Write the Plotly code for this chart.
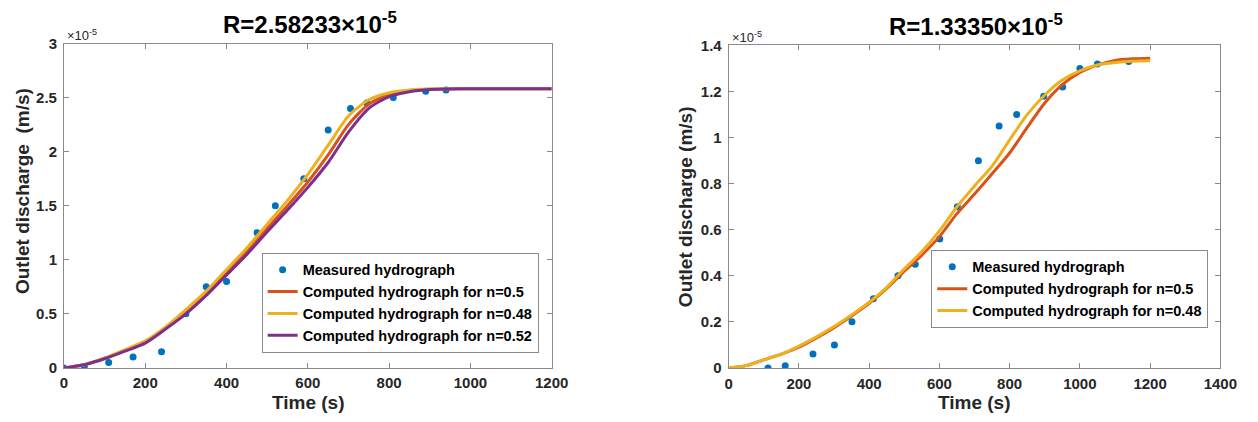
import plotly.graph_objects as go

# ---------------- data (discharge in units of 1e-5 m/s) ----------------
left_meas_t = [0, 50, 110, 170, 240, 300, 350, 400, 475, 520, 590, 650, 705, 745, 810, 890, 940]
left_meas_q = [0, 0.01, 0.05, 0.10, 0.15, 0.50, 0.75, 0.80, 1.25, 1.50, 1.75, 2.20, 2.40, 2.45, 2.50, 2.56, 2.57]

left_t = [0, 50, 100, 150, 200, 250, 300, 350, 400, 450, 500, 550, 600, 650, 700, 750, 800, 850, 900, 950, 1000, 1100, 1200]
left_n050 = [0, 0.03, 0.09, 0.16, 0.24, 0.37, 0.52, 0.69, 0.88, 1.08, 1.29, 1.50, 1.72, 1.97, 2.25, 2.44, 2.53, 2.565, 2.578, 2.581, 2.582, 2.5823, 2.5823]
left_n048 = [0, 0.03, 0.09, 0.17, 0.25, 0.38, 0.54, 0.71, 0.91, 1.11, 1.33, 1.55, 1.79, 2.06, 2.33, 2.48, 2.545, 2.57, 2.579, 2.582, 2.5823, 2.5823, 2.5823]
left_n052 = [0, 0.03, 0.085, 0.155, 0.23, 0.36, 0.50, 0.67, 0.86, 1.05, 1.26, 1.46, 1.67, 1.90, 2.18, 2.40, 2.51, 2.555, 2.575, 2.58, 2.582, 2.5823, 2.5823]

right_meas_t = [112, 161, 240, 301, 351, 412, 482, 531, 601, 651, 711, 770, 820, 897, 951, 1000, 1050, 1139]
right_meas_q = [0, 0.01, 0.06, 0.10, 0.20, 0.30, 0.40, 0.45, 0.56, 0.70, 0.90, 1.05, 1.10, 1.18, 1.22, 1.30, 1.32, 1.33]

right_t = [0, 50, 100, 150, 200, 250, 300, 350, 400, 450, 500, 550, 600, 650, 700, 750, 800, 850, 900, 950, 1000, 1050, 1100, 1150, 1200]
right_n050 = [0, 0.01, 0.035, 0.06, 0.09, 0.13, 0.175, 0.225, 0.28, 0.345, 0.42, 0.49, 0.57, 0.67, 0.755, 0.843, 0.933, 1.044, 1.15, 1.23, 1.283, 1.315, 1.335, 1.342, 1.345]
right_n048 = [0, 0.01, 0.035, 0.06, 0.095, 0.135, 0.18, 0.23, 0.285, 0.35, 0.43, 0.505, 0.595, 0.70, 0.79, 0.876, 0.99, 1.10, 1.185, 1.25, 1.29, 1.315, 1.326, 1.332, 1.334]

left_title = "R=2.58233×10<sup>-5</sup>"
right_title = "R=1.33350×10<sup>-5</sup>"
left_ylabel = "Outlet discharge\u00a0\u00a0(m/s)"
right_ylabel = "Outlet discharge (m/s)"
xlabel = "Time (s)"
multiplier = "×10<sup>-5</sup>"
left_xticks = [0, 200, 400, 600, 800, 1000, 1200]
right_xticks = [0, 200, 400, 600, 800, 1000, 1200, 1400]
left_yticks = [0, 0.5, 1, 1.5, 2, 2.5, 3]
right_yticks = [0, 0.2, 0.4, 0.6, 0.8, 1, 1.2, 1.4]

# ---------------- styling ----------------
BLUE = "#0072BD"
RED = "#D95319"
YEL = "#EDB120"
PUR = "#7E2F8E"
FONT = "Liberation Sans"
TXT = "#262626"
W, H = 1258, 422

fig = go.Figure()

def meas(x, y, xa, ya, leg):
    fig.add_trace(go.Scatter(x=x, y=y, mode="markers", xaxis=xa, yaxis=ya, legend=leg,
                             marker=dict(color=BLUE, size=7), name="<b>Measured hydrograph</b>"))

def line(x, y, xa, ya, leg, color, name):
    fig.add_trace(go.Scatter(x=x, y=y, mode="lines", xaxis=xa, yaxis=ya, legend=leg,
                             line=dict(color=color, width=3, shape="spline", smoothing=0.7),
                             name="<b>" + name + "</b>"))

meas(left_meas_t, left_meas_q, "x", "y", "legend")
line(left_t, left_n050, "x", "y", "legend", RED, "Computed hydrograph for n=0.5")
line(left_t, left_n048, "x", "y", "legend", YEL, "Computed hydrograph for n=0.48")
line(left_t, left_n052, "x", "y", "legend", PUR, "Computed hydrograph for n=0.52")

meas(right_meas_t, right_meas_q, "x2", "y2", "legend2")
line(right_t, right_n050, "x2", "y2", "legend2", RED, "Computed hydrograph for n=0.5")
line(right_t, right_n048, "x2", "y2", "legend2", YEL, "Computed hydrograph for n=0.48")

axis_common = dict(showgrid=False, zeroline=False, showline=True, linecolor="#8a8a8a", linewidth=1,
                   mirror="allticks", ticks="inside", ticklen=5, tickcolor="#8a8a8a",
                   tickfont=dict(family=FONT, size=15, color=TXT, weight="bold"))

lx0, lx1, ly0, ly1 = 61, 557, 36, 374
rx0, rx1, ry0, ry1 = 737, 1237, 38, 374

legend_common = dict(xanchor="left", yanchor="top", bgcolor="white",
                     bordercolor="#8a8a8a", borderwidth=1,
                     font=dict(family=FONT, size=14.5, color="black"),
                     tracegroupgap=0, itemwidth=30)

fig.update_layout(
    width=W, height=H, margin=dict(l=0, r=0, t=0, b=0),
    paper_bgcolor="white", plot_bgcolor="white",
    xaxis=dict(domain=[lx0 / W, lx1 / W], range=[0, 1200], tickvals=left_xticks, anchor="y",
               ticklabelstandoff=1, **axis_common),
    yaxis=dict(domain=[1 - ly1 / H, 1 - ly0 / H], range=[0, 3], tickvals=left_yticks, anchor="x",
               ticklabelstandoff=3, **axis_common),
    xaxis2=dict(domain=[rx0 / W, rx1 / W], range=[0, 1400], tickvals=right_xticks, anchor="y2",
                ticklabelstandoff=2, **axis_common),
    yaxis2=dict(domain=[1 - ry1 / H, 1 - ry0 / H], range=[0, 1.4], tickvals=right_yticks, anchor="x2",
                ticklabelstandoff=3, **axis_common),
    legend=dict(x=262 / W, y=1 - 254 / H, **legend_common),
    legend2=dict(x=943 / W, y=1 - 251 / H, **legend_common),
    font=dict(family=FONT, color=TXT),
)

ann = []
def text(x, y, t, size, bold=True, angle=0, xanchor="center", yanchor="middle", color=TXT):
    ann.append(dict(x=x / W, y=1 - y / H, xref="paper", yref="paper", text=("<b>" + t + "</b>") if bold else t,
                    showarrow=False, xanchor=xanchor, yanchor=yanchor, textangle=angle,
                    font=dict(family=FONT, size=size, color=color)))

text(311, 15, left_title, 24, color="black")
text(989, 17, right_title, 24, color="black")
text(lx0 + 1, ly0 + 2, multiplier, 13, bold=False, xanchor="left", yanchor="bottom")
text(rx0 + 1, ry0 + 2, multiplier, 13, bold=False, xanchor="left", yanchor="bottom")
text(19, 190, left_ylabel, 19, angle=-90)
text(693, 206, right_ylabel, 19, angle=-90)
text(310, 410, xlabel, 19)
text(987, 410, xlabel, 19)
fig.update_layout(annotations=ann)

fig.write_html("out.html")
